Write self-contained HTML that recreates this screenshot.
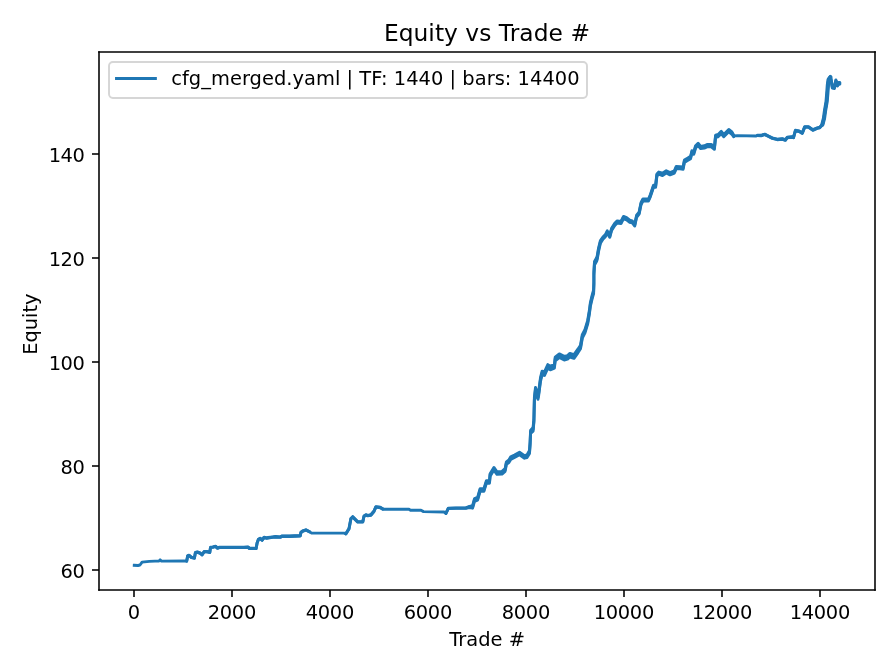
<!DOCTYPE html><html><head><meta charset="utf-8"><title>Equity vs Trade #</title><style>html,body{margin:0;padding:0;background:#fff;}svg{display:block;}text{font-family:'DejaVu Sans', 'Liberation Sans', sans-serif;fill:#000;}svg{will-change:transform}
</style></head><body>
<svg width="896" height="672" viewBox="0 0 896 672">
<rect x="0" y="0" width="896" height="672" fill="#fff"/>
<defs><clipPath id="ax"><rect x="99" y="52" width="776" height="538"/></clipPath></defs>
<polyline clip-path="url(#ax)" points="134.27,565.30 138.00,565.50 140.00,565.00 142.10,562.10 149.40,561.40 155.00,561.10 159.00,561.10 160.10,559.90 161.50,561.10 184.00,560.90 186.70,561.10 187.70,555.80 189.00,555.40 191.40,557.40 194.40,558.10 195.40,552.70 197.40,552.10 200.10,553.10 202.10,554.80 204.10,551.70 206.80,551.70 209.80,552.40 210.50,547.40 212.80,547.10 215.50,546.40 217.50,548.10 219.50,547.40 221.50,547.40 244.00,547.40 248.00,547.10 249.40,548.40 256.10,548.40 257.10,543.10 258.40,539.40 260.10,538.40 262.10,540.10 264.10,537.40 266.80,538.10 268.10,537.70 272.80,537.10 275.50,536.70 280.20,537.10 282.20,536.10 289.50,536.30 300.30,535.70 300.90,532.40 302.90,531.00 306.00,530.00 309.75,531.90 311.60,533.10 323.50,533.10 344.00,533.10 345.90,533.75 349.00,528.75 350.90,518.75 352.75,516.90 355.25,519.40 357.75,521.90 362.75,521.90 364.00,516.25 365.90,515.00 367.75,515.60 370.90,515.00 374.00,511.25 375.90,506.90 380.25,507.50 382.75,509.00 384.00,509.30 409.00,509.30 410.50,510.20 421.00,510.30 423.50,511.60 444.00,512.00 445.90,513.40 448.30,508.40 456.00,508.10 465.75,508.10 469.50,506.90 472.60,506.90 474.50,500.00 477.60,498.75 480.10,490.00 483.90,490.00 486.40,481.90 489.50,481.90 490.10,475.00 493.90,468.75 497.00,473.10 502.00,472.75 505.10,470.00 506.40,463.10 508.90,461.25 510.75,458.10 514.50,456.25 519.50,453.50 524.50,456.90 527.00,456.25 529.50,451.90 530.10,443.30 530.60,431.80 533.10,429.40 533.90,420.40 534.40,399.10 535.50,389.30 538.00,397.50 538.80,392.60 540.50,379.50 542.10,372.90 544.50,373.70 547.80,366.40 550.30,368.00 554.40,366.40 555.20,359.00 559.30,355.70 564.20,358.20 567.50,357.40 569.90,355.20 574.00,356.50 577.90,351.00 580.50,347.00 582.30,336.40 585.00,331.10 587.70,322.10 589.50,311.40 590.40,304.30 592.10,297.10 593.60,291.80 593.90,282.90 593.90,273.90 594.50,263.20 596.60,259.60 597.25,257.50 598.50,250.00 600.40,241.90 602.90,238.10 605.40,235.60 607.25,231.90 609.75,236.25 611.60,229.40 614.75,224.40 617.25,221.90 621.00,222.50 623.50,217.50 626.60,218.75 629.75,221.25 632.25,221.90 634.75,225.00 636.60,216.25 639.10,213.10 641.00,203.75 642.90,200.00 646.00,200.00 648.50,200.00 650.40,195.60 652.25,190.00 653.50,186.25 655.60,186.25 656.90,175.00 658.75,173.10 662.50,174.40 666.25,171.90 670.00,173.75 674.40,171.90 676.25,167.50 680.00,167.75 683.10,168.10 684.40,161.25 687.50,159.40 690.60,157.50 691.90,151.90 693.75,153.10 695.60,146.90 698.10,144.40 700.60,147.50 704.40,146.90 707.50,145.60 711.25,145.60 714.40,148.10 715.60,136.25 718.10,135.60 721.25,132.50 723.75,135.60 726.25,133.10 728.75,130.60 731.90,133.10 733.75,136.00 737.50,135.60 756.25,136.00 757.50,135.40 761.00,135.60 764.75,134.40 768.50,136.25 772.25,138.10 777.25,139.40 782.25,139.00 785.40,140.00 787.25,137.50 792.25,136.90 793.50,137.50 795.40,130.60 799.10,131.25 802.25,133.10 804.75,126.90 808.50,126.90 812.90,130.00 817.25,128.10 819.75,127.50 822.40,124.60 824.00,118.30 825.00,111.00 826.60,101.70 827.30,93.30 827.90,85.00 828.60,79.80 830.40,77.20 831.25,80.80 832.30,87.10 834.40,87.60 835.90,80.80 837.50,85.00 838.50,83.40 839.70,83.40" fill="none" stroke="#1f77b4" stroke-width="2.9167" stroke-linecap="square" stroke-linejoin="round"/>
<polyline clip-path="url(#ax)" points="822.40,124.60 824.00,118.30 825.00,111.00 826.60,101.70 827.30,93.30 827.90,85.00 828.60,79.80 830.40,77.20" fill="none" stroke="#1f77b4" stroke-width="4.20" stroke-linejoin="round" stroke-linecap="round"/>
<g clip-path="url(#ax)" fill="#1f77b4" stroke="#1f77b4" stroke-width="2.9167" stroke-linejoin="round"><polygon points="186.70,560.97 187.70,555.61 189.00,555.21 191.40,557.21 194.40,557.91 195.40,552.51 197.40,551.91 200.10,552.91 202.10,554.61 204.10,551.51 206.80,551.51 209.80,552.21 210.50,547.21 212.80,546.91 215.50,546.21 217.50,547.91 219.50,547.21 221.50,547.26 244.00,547.28 248.00,546.86 249.40,548.16 256.10,548.16 257.10,542.86 258.40,539.16 260.10,538.16 262.10,539.86 264.10,537.16 266.80,537.86 268.10,537.46 272.80,536.86 275.50,536.46 280.20,536.86 282.20,535.86 289.50,536.06 300.30,535.46 300.90,532.17 302.90,530.79 306.00,529.81 309.75,531.75 309.75,532.05 306.00,530.19 302.90,531.21 300.90,532.63 300.30,535.94 289.50,536.54 282.20,536.34 280.20,537.34 275.50,536.94 272.80,537.34 268.10,537.94 266.80,538.34 264.10,537.64 262.10,540.34 260.10,538.64 258.40,539.64 257.10,543.34 256.10,548.64 249.40,548.64 248.00,547.34 244.00,547.51 221.50,547.54 219.50,547.59 217.50,548.29 215.50,546.59 212.80,547.29 210.50,547.59 209.80,552.59 206.80,551.89 204.10,551.89 202.10,554.99 200.10,553.29 197.40,552.29 195.40,552.89 194.40,558.29 191.40,557.59 189.00,555.59 187.70,555.99 186.70,561.23"/><polygon points="345.90,533.52 349.00,528.51 350.90,518.51 352.75,516.66 355.25,519.16 357.75,521.66 362.75,521.66 364.00,516.01 365.90,514.76 367.75,515.36 370.90,514.76 374.00,511.01 375.90,506.66 380.25,507.26 382.75,508.83 382.75,509.17 380.25,507.74 375.90,507.14 374.00,511.49 370.90,515.24 367.75,515.84 365.90,515.24 364.00,516.49 362.75,522.14 357.75,522.14 355.25,519.64 352.75,517.14 350.90,518.99 349.00,528.99 345.90,533.98"/><polygon points="445.90,513.22 448.30,508.21 456.00,507.91 465.75,507.91 469.50,506.30 472.60,505.61 474.50,498.71 477.60,497.46 480.10,488.71 483.90,488.71 486.40,480.61 489.50,480.61 490.10,473.71 493.90,467.46 497.00,471.81 502.00,471.46 505.10,468.71 506.40,461.81 508.90,459.96 510.75,456.81 514.50,454.96 519.50,452.21 524.50,455.61 527.00,454.96 529.50,450.42 530.10,441.75 530.60,430.19 533.10,427.61 533.90,418.61 534.40,397.31 535.50,387.51 538.00,395.71 538.80,390.81 540.50,377.71 542.10,371.11 544.50,371.91 547.80,364.61 550.30,366.21 554.40,364.61 555.20,357.21 559.30,353.91 564.20,356.41 567.50,355.61 569.90,353.41 574.00,354.71 577.90,349.21 580.50,345.21 582.30,334.61 585.00,329.31 587.70,320.31 589.50,309.61 590.40,302.51 592.10,295.31 593.60,290.01 593.90,281.11 593.90,272.11 594.50,261.41 596.60,257.81 597.25,255.71 598.50,248.30 600.40,240.56 602.90,237.06 605.40,234.56 607.25,230.86 609.75,235.21 611.60,228.36 614.75,223.36 617.25,220.86 621.00,221.46 623.50,216.46 626.60,217.71 629.75,220.21 632.25,220.86 634.75,223.96 636.60,215.21 639.10,212.06 641.00,202.71 642.90,198.96 646.00,198.96 648.50,198.96 650.40,194.56 652.25,188.96 653.50,185.21 655.60,185.21 656.90,173.96 658.75,172.06 662.50,173.26 666.25,170.76 670.00,172.61 674.40,170.76 676.25,166.36 680.00,166.61 683.10,166.96 684.40,160.11 687.50,158.26 690.60,156.36 691.90,150.76 693.75,151.96 695.60,145.76 698.10,143.26 700.60,146.36 704.40,145.76 707.50,144.46 711.25,144.46 714.40,146.96 715.60,135.11 718.10,134.46 721.25,131.36 723.75,134.46 726.25,131.96 728.75,129.46 731.90,131.96 733.75,135.15 733.75,136.85 731.90,134.24 728.75,131.74 726.25,134.24 723.75,136.74 721.25,133.64 718.10,136.74 715.60,137.39 714.40,149.24 711.25,146.74 707.50,146.74 704.40,148.04 700.60,148.64 698.10,145.54 695.60,148.04 693.75,154.24 691.90,153.04 690.60,158.64 687.50,160.54 684.40,162.39 683.10,169.24 680.00,168.89 676.25,168.64 674.40,173.04 670.00,174.89 666.25,173.04 662.50,175.54 658.75,174.14 656.90,176.04 655.60,187.29 653.50,187.29 652.25,191.04 650.40,196.64 648.50,201.04 646.00,201.04 642.90,201.04 641.00,204.79 639.10,214.14 636.60,217.29 634.75,226.04 632.25,222.94 629.75,222.29 626.60,219.79 623.50,218.54 621.00,223.54 617.25,222.94 614.75,225.44 611.60,230.44 609.75,237.29 607.25,232.94 605.40,236.64 602.90,239.14 600.40,243.24 598.50,251.70 597.25,259.29 596.60,261.39 594.50,264.99 593.90,275.69 593.90,284.69 593.60,293.59 592.10,298.89 590.40,306.09 589.50,313.19 587.70,323.89 585.00,332.89 582.30,338.19 580.50,348.79 577.90,352.79 574.00,358.29 569.90,356.99 567.50,359.19 564.20,359.99 559.30,357.49 555.20,360.79 554.40,368.19 550.30,369.79 547.80,368.19 544.50,375.49 542.10,374.69 540.50,381.29 538.80,394.39 538.00,399.29 535.50,391.09 534.40,400.89 533.90,422.19 533.10,431.19 530.60,433.42 530.10,444.85 529.50,453.38 527.00,457.54 524.50,458.19 519.50,454.79 514.50,457.54 510.75,459.39 508.90,462.54 506.40,464.39 505.10,471.29 502.00,474.04 497.00,474.39 493.90,470.04 490.10,476.29 489.50,483.19 486.40,483.19 483.90,491.29 480.10,491.29 477.60,500.04 474.50,501.29 472.60,508.19 469.50,507.50 465.75,508.29 456.00,508.29 448.30,508.59 445.90,513.58"/><polygon points="757.50,135.19 761.00,135.31 764.75,134.11 768.50,135.96 772.25,137.81 777.25,139.11 782.25,138.71 785.40,139.71 787.25,137.21 792.25,136.61 793.50,137.21 795.40,130.31 799.10,130.96 802.25,132.81 804.75,126.61 808.50,126.61 812.90,129.71 817.25,127.81 819.75,127.21 822.40,124.11 824.00,117.71 825.00,110.36 826.60,100.98 827.30,92.55 827.90,84.22 828.60,78.98 830.40,76.35 831.25,79.94 832.30,86.23 834.40,86.71 835.90,79.90 837.50,84.09 838.50,82.48 839.70,82.47 839.70,84.33 838.50,84.32 837.50,85.91 835.90,81.70 834.40,88.48 832.30,87.97 831.25,81.66 830.40,78.05 828.60,80.62 827.90,85.78 827.30,94.05 826.60,102.42 825.00,111.64 824.00,118.89 822.40,125.09 819.75,127.79 817.25,128.39 812.90,130.29 808.50,127.19 804.75,127.19 802.25,133.39 799.10,131.54 795.40,130.89 793.50,137.79 792.25,137.19 787.25,137.79 785.40,140.29 782.25,139.29 777.25,139.69 772.25,138.39 768.50,136.54 764.75,134.69 761.00,135.89 757.50,135.62"/></g>
<line x1="99" y1="590" x2="99" y2="52" stroke="#000" stroke-width="1.5556" stroke-linecap="square"/>
<line x1="875" y1="590" x2="875" y2="52" stroke="#000" stroke-width="1.5556" stroke-linecap="square"/>
<line x1="99" y1="590" x2="875" y2="590" stroke="#000" stroke-width="1.5556" stroke-linecap="square"/>
<line x1="99" y1="52" x2="875" y2="52" stroke="#000" stroke-width="1.5556" stroke-linecap="square"/>
<line x1="134" y1="590" x2="134" y2="597.000" stroke="#000" stroke-width="1.5556"/>
<text x="133.85" y="618.59" font-size="19.444" text-anchor="middle" letter-spacing="-0.3">0</text>
<line x1="232" y1="590" x2="232" y2="597.000" stroke="#000" stroke-width="1.5556"/>
<text x="231.85" y="618.59" font-size="19.444" text-anchor="middle" letter-spacing="-0.3">2000</text>
<line x1="330" y1="590" x2="330" y2="597.000" stroke="#000" stroke-width="1.5556"/>
<text x="329.85" y="618.59" font-size="19.444" text-anchor="middle" letter-spacing="-0.3">4000</text>
<line x1="428" y1="590" x2="428" y2="597.000" stroke="#000" stroke-width="1.5556"/>
<text x="427.85" y="618.59" font-size="19.444" text-anchor="middle" letter-spacing="-0.3">6000</text>
<line x1="526" y1="590" x2="526" y2="597.000" stroke="#000" stroke-width="1.5556"/>
<text x="525.85" y="618.59" font-size="19.444" text-anchor="middle" letter-spacing="-0.3">8000</text>
<line x1="624" y1="590" x2="624" y2="597.000" stroke="#000" stroke-width="1.5556"/>
<text x="623.85" y="618.59" font-size="19.444" text-anchor="middle" letter-spacing="-0.3">10000</text>
<line x1="722" y1="590" x2="722" y2="597.000" stroke="#000" stroke-width="1.5556"/>
<text x="721.85" y="618.59" font-size="19.444" text-anchor="middle" letter-spacing="-0.3">12000</text>
<line x1="820" y1="590" x2="820" y2="597.000" stroke="#000" stroke-width="1.5556"/>
<text x="819.85" y="618.59" font-size="19.444" text-anchor="middle" letter-spacing="-0.3">14000</text>
<line x1="99" y1="570" x2="92.000" y2="570" stroke="#000" stroke-width="1.5556"/>
<text x="84.46" y="578.41" font-size="19.444" text-anchor="end" letter-spacing="-0.45">60</text>
<line x1="99" y1="466" x2="92.000" y2="466" stroke="#000" stroke-width="1.5556"/>
<text x="84.46" y="474.41" font-size="19.444" text-anchor="end" letter-spacing="-0.45">80</text>
<line x1="99" y1="362" x2="92.000" y2="362" stroke="#000" stroke-width="1.5556"/>
<text x="84.46" y="370.41" font-size="19.444" text-anchor="end" letter-spacing="-0.45">100</text>
<line x1="99" y1="258" x2="92.000" y2="258" stroke="#000" stroke-width="1.5556"/>
<text x="84.46" y="266.41" font-size="19.444" text-anchor="end" letter-spacing="-0.45">120</text>
<line x1="99" y1="154" x2="92.000" y2="154" stroke="#000" stroke-width="1.5556"/>
<text x="84.46" y="162.41" font-size="19.444" text-anchor="end" letter-spacing="-0.45">140</text>
<text x="487.12" y="645.56" font-size="19.444" text-anchor="middle">Trade #</text>
<g transform="translate(1.01 3.10)"><text x="36.45" y="321.00" font-size="19.444" text-anchor="middle" transform="rotate(-90 36.45 321.00)">Equity</text></g>
<text x="486.96" y="40.56" font-size="23.333" text-anchor="middle" letter-spacing="0.04">Equity vs Trade #</text>
<rect x="109" y="62" width="478" height="36" rx="3.89" ry="3.89" fill="#fff" stroke="#ccc" stroke-width="1.944" opacity="0.8"/>
<line x1="116.50" y1="78.50" x2="155.39" y2="78.50" stroke="#1f77b4" stroke-width="2.9167" stroke-linecap="square"/>
<text x="171.24" y="84.61" font-size="19.444" letter-spacing="0.03">cfg_merged.yaml | TF: 1440 | bars: 14400</text>
</svg></body></html>
